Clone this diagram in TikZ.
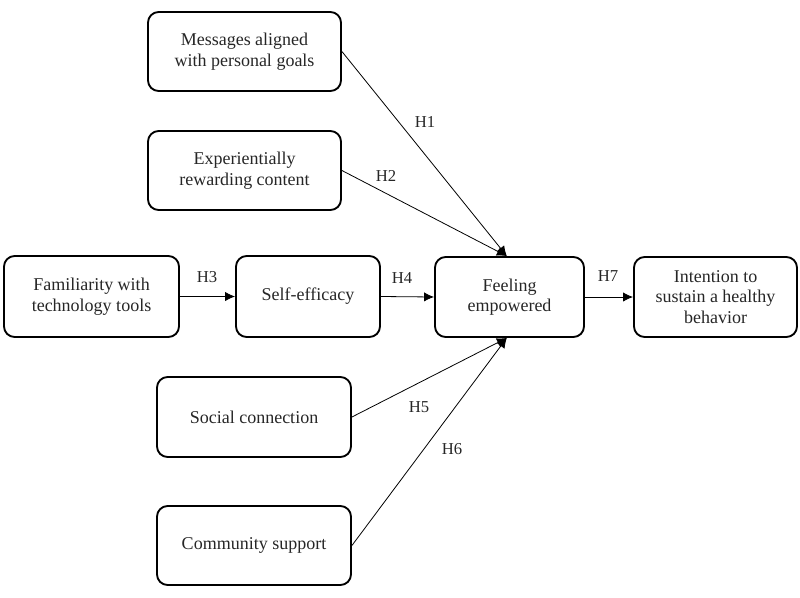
\documentclass[tikz,border=0pt]{standalone}
\usepackage{fontspec}
\setmainfont{Liberation Serif}
\usetikzlibrary{arrows.meta}
\tikzset{
  every picture/.style={
    line width=0.6pt,
    >={Latex[width=7pt, length=7.5pt]}
  },
  factor/.style={
    draw, line width=1.4pt, rounded corners=8pt,
    align=center, inner sep=2pt, text=black!85,
    font=\fontsize{13.5}{15.5}\selectfont
  },
  hyp/.style={
    font=\fontsize{12.5}{14}\selectfont,
    inner sep=0pt, text=black!85
  }
}

\begin{document}
\begin{tikzpicture}[x=0.75pt, y=-0.75pt]
  \useasboundingbox (0,0) rectangle (800,597);
  % factors
  \node[factor, minimum width=144.75pt, minimum height=59.25pt] (msg) at (244.5,51.5) {Messages aligned\\with personal goals};
  \node[factor, minimum width=144.75pt, minimum height=59.25pt] (exp) at (244.5,170.5) {Experientially\\rewarding content};
  \node[factor, minimum width=131.25pt, minimum height=60.75pt] (fam) at (91.5,296.5) {Familiarity with\\technology tools};
  \node[factor, minimum width=108pt, minimum height=60.75pt] (self) at (308,296.5) {Self-efficacy};
  \node[factor, minimum width=111.75pt, minimum height=60pt] (feel) at (509.5,297) {Feeling\\empowered};
  \node[factor, minimum width=122.25pt, minimum height=60pt] (int) at (715.5,297) {Intention to\\sustain a healthy\\behavior};
  \node[factor, minimum width=145.5pt, minimum height=60pt] (soc) at (254,417) {Social connection};
  \node[factor, minimum width=145.5pt, minimum height=59.25pt] (com) at (254,545.5) {Community support};
  % paths
  \draw[->] (msg.east) -- ([xshift=-2pt]feel.north);
  \draw[->] (exp.east) -- ([xshift=-2pt]feel.north);
  \draw[->] (fam.east) -- (self.west);
  \draw[->] (self.east) -- (feel.west);
  \draw[->] (feel.east) -- (int.west);
  \draw[->] (soc.east) -- ([xshift=-2pt]feel.south);
  \draw[->] (com.east) -- ([xshift=-2pt]feel.south);
  % hypotheses
  \node[hyp] (h1) at (425,122) {H1};
  \node[hyp] (h2) at (386,176) {H2};
  \node[hyp] (h3) at (207,277) {H3};
  \node[hyp] (h4) at (402,278) {H4};
  \node[hyp] (h5) at (419,407) {H5};
  \node[hyp] (h6) at (452,449) {H6};
  \node[hyp] (h7) at (608,276) {H7};
\end{tikzpicture}
\end{document}
